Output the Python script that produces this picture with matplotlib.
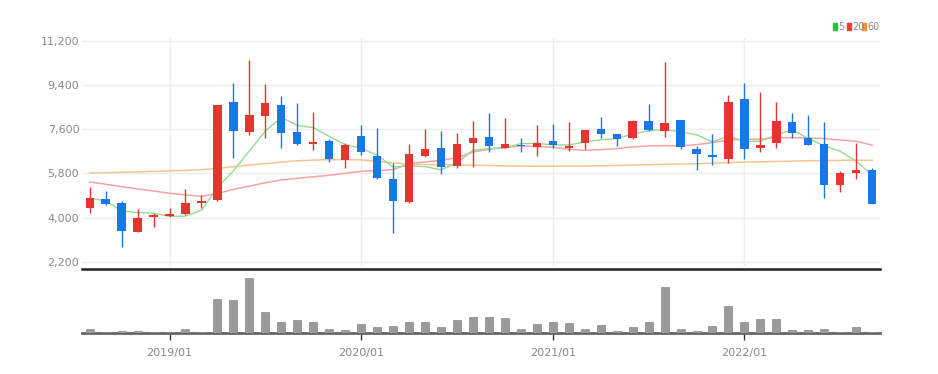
import matplotlib
matplotlib.use("Agg")
import matplotlib.pyplot as plt
from matplotlib.patches import Rectangle
import pandas as pd
import numpy as np

# ---- data (monthly, 2018/08 .. 2022/09) ----
months = [p.strftime("%Y/%m") for p in pd.period_range("2018-08", periods=50, freq="M")]

opens = [4380, 4760, 4585, 3430, 4025, 4065, 4150, 4610, 4705, 8695,
         7485, 8125, 8585, 7485, 7010, 7105, 6345, 7335, 6510, 5575,
         4650, 6495, 6835, 6100, 7050, 7270, 6850, 6970, 6875, 7120,
         6820, 7050, 7610, 7405, 7240, 7935, 7540, 7960, 6795, 6550,
         6400, 8830, 6835, 7025, 7895, 7240, 7000, 5330, 5805, 5925]
highs = [5260, 5085, 4680, 4340, 4205, 4395, 5180, 4920, 8600, 9480,
         10420, 9440, 8950, 8655, 8315, 7215, 7025, 7760, 7650, 6240,
         6985, 7595, 7515, 7460, 7920, 8245, 8070, 7240, 7785, 7810,
         7895, 7570, 8095, 7410, 7960, 8640, 10335, 7970, 6915, 7390,
         8980, 9495, 9130, 8710, 8275, 8180, 7905, 5885, 7040, 6035]
lows = [4175, 4515, 2820, 3400, 3635, 4040, 4120, 4395, 4680, 6415,
        7350, 7230, 6835, 6970, 6740, 6280, 6010, 6535, 5560, 3375,
        4610, 6455, 5775, 6010, 6050, 6685, 6835, 6670, 6495, 6820,
        6715, 6780, 7255, 6915, 7190, 7525, 7270, 6780, 5925, 6145,
        6240, 6400, 6685, 6820, 7240, 6945, 4815, 5060, 5560, 4560]
closes = [4790, 4570, 3455, 3985, 4095, 4150, 4610, 4665, 8585, 7525,
          8180, 8655, 7430, 6985, 7080, 6375, 6970, 6685, 5600, 4665,
          6605, 6810, 6060, 7000, 7240, 6930, 6985, 6905, 7025, 6945,
          6930, 7570, 7390, 7215, 7920, 7570, 7865, 6890, 6605, 6480,
          8720, 6795, 6955, 7935, 7445, 6970, 5315, 5805, 5955, 4570]
volumes = [4.3, 1.0, 2.3, 2.0, 1.3, 1.3, 4.3, 1.0, 34.3, 32.7,
           55.3, 20.7, 10.7, 13.0, 10.7, 4.3, 3.0, 9.0, 6.3, 7.3,
           10.7, 11.3, 6.3, 13.0, 16.3, 16.3, 14.7, 3.7, 9.3, 11.0,
           9.7, 4.3, 8.3, 2.3, 6.0, 11.3, 46.3, 4.0, 2.3, 7.3,
           26.7, 11.0, 14.3, 14.3, 3.0, 3.0, 4.0, 1.0, 6.0, 1.3]
ma20 = [5451, 5356, 5261, 5166, 5085, 4990, 4922, 4868, 4980, 5150,
        5280, 5420, 5530, 5600, 5660, 5722, 5804, 5885, 5912, 5953,
        6190, 6265, 6333, 6428, 6672, 6781, 6849, 6917, 6890, 6862,
        6781, 6740, 6767, 6808, 6876, 6917, 6930, 6917, 6971, 7052,
        7161, 7188, 7188, 7256, 7256, 7242, 7215, 7161, 7107, 6950]
ma60 = [5815, 5830, 5845, 5860, 5880, 5900, 5920, 5950, 6000, 6070,
        6140, 6200, 6260, 6310, 6340, 6355, 6360, 6345, 6290, 6230,
        6170, 6160, 6150, 6145, 6130, 6120, 6105, 6100, 6090, 6090,
        6100, 6100, 6110, 6120, 6140, 6150, 6170, 6180, 6195, 6210,
        6240, 6260, 6270, 6285, 6300, 6315, 6320, 6330, 6333, 6333]
yticks = [2200, 4000, 5800, 7600, 9400, 11200]
xtick_labels = ["2019/01", "2020/01", "2021/01", "2022/01"]
legend_labels = ["5", "20", "60"]

# ---- style ----
UP = "#e8332f"
DOWN = "#1a78e6"
C_MA5, C_MA20, C_MA60 = "#95dc8f", "#f5a3a3", "#f7c493"
L_MA5, L_MA20, L_MA60 = "#2cbf3a", "#f23c3c", "#f59331"
TXT = "#8a8a8a"
FONT = ["Liberation Sans Narrow", "DejaVu Sans"]

W, H = 938, 374
fig = plt.figure(figsize=(W / 100, H / 100), dpi=100)
x0, x1 = 82 / W, 880 / W
ax = fig.add_axes([x0, 1 - 266 / H, x1 - x0, (266 - 38) / H])
axv = fig.add_axes([x0, 1 - 333 / H, x1 - x0, (333 - 269) / H])

x = np.arange(len(months))
o, h, l, c = map(np.array, (opens, highs, lows, closes))
ma5 = pd.Series(closes).rolling(5, min_periods=1).mean().values
up = c >= o
col = np.where(up, UP, DOWN)

# moving averages
ax.plot(x, ma60, color=C_MA60, lw=1.1, zorder=2)
ax.plot(x, ma20, color=C_MA20, lw=1.1, zorder=2)
ax.plot(x, ma5, color=C_MA5, lw=1.0, zorder=2)

# candles
ax.vlines(x, l, h, colors=col, lw=1.0, zorder=3)
bottoms = np.minimum(o, c)
heights = np.maximum(np.abs(c - o), 40)
ax.bar(x, heights, bottom=bottoms, width=0.52, color=col, zorder=4, linewidth=0)

ax.set_xlim(-0.48, 49.49)
ax.set_ylim(2030, 11310)
ax.set_yticks(yticks)
ax.set_yticklabels([f"{v:,}" for v in yticks], fontsize=8, color=TXT, family=FONT)
tick_pos = [months.index(t) for t in xtick_labels]
ax.set_xticks(tick_pos)
ax.set_xticklabels([])
ax.tick_params(axis="both", length=0, pad=2)
ax.grid(True, color="#ececec", lw=1.0, zorder=0)
for s in ax.spines.values():
    s.set_visible(False)

# volume
axv.bar(x, volumes, width=0.5, color="#9a9a9a", edgecolor="#8a8a8a", lw=0.5, zorder=3)
axv.set_xlim(-0.48, 49.49)
axv.set_ylim(0, max(volumes) * 1.16)
axv.set_yticks([])
axv.set_xticks(tick_pos)
axv.set_xticklabels(xtick_labels, fontsize=8, color=TXT, family=FONT)
axv.tick_params(axis="x", length=5, width=1, color="#333333", pad=6)
for k in ("left", "right"):
    axv.spines[k].set_visible(False)
axv.spines["top"].set_color("#222222")
axv.spines["top"].set_linewidth(1.8)
axv.spines["bottom"].set_color("#666666")
axv.spines["bottom"].set_linewidth(2.0)

# legend (top right): small colored squares followed by labels
sq_x = [833, 847, 862]
for sx, lab, cc in zip(sq_x, legend_labels, [L_MA5, L_MA20, L_MA60]):
    fig.patches.append(Rectangle((sx / W, 1 - 30 / H), 4 / W, 7 / H,
                                 transform=fig.transFigure, color=cc, figure=fig))
    fig.text((sx + 5) / W, 1 - 26.5 / H, lab, color=TXT, fontsize=7,
             va="center", ha="left", family=FONT)

fig.savefig("out.png", dpi=100, facecolor="white")
